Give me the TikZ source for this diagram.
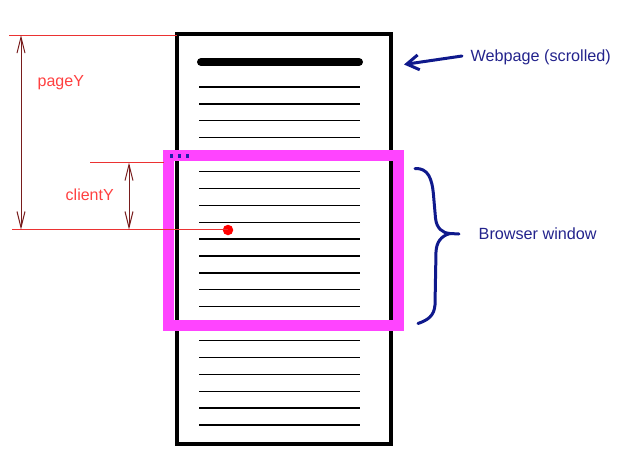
\documentclass[tikz,border=0pt]{standalone}
\usepackage{fontspec}
\setmainfont{Liberation Sans}
\usetikzlibrary{arrows.meta}
\definecolor{winpink}{RGB}{255,68,255}
\definecolor{redtext}{RGB}{255,64,64}
\definecolor{redline}{RGB}{235,50,50}
\definecolor{dimarrow}{RGB}{120,28,28}
\definecolor{navytext}{RGB}{35,35,140}
\definecolor{navyline}{RGB}{15,25,140}
\definecolor{dotblue}{RGB}{30,30,170}
\tikzset{
  pagebox/.style={draw=black, line width=4pt, fill=white, rectangle, inner sep=0pt, minimum width=214pt, minimum height=410pt},
  winbox/.style={draw=winpink, line width=11pt, rectangle, inner sep=0pt, minimum width=230pt, minimum height=170pt},
  textline/.style={line width=1.3pt, black},
  redlbl/.style={text=redtext, anchor=base west, inner sep=0pt, font=\fontsize{16}{19}\selectfont},
  bluelbl/.style={text=navytext, anchor=base west, inner sep=0pt, font=\fontsize{16.2}{19}\selectfont},
  guide/.style={draw=redline, line width=1pt},
  dimarr/.style={draw=dimarrow, line width=1pt, {Straight Barb[length=16pt,width=8pt]}-{Straight Barb[length=16pt,width=8pt]}},
  pointer/.style={draw=navyline, line width=3pt, line cap=round, -{Straight Barb[length=12pt,width=15pt]}},
  bracepath/.style={draw=navyline, line width=3pt, line cap=round, line join=round},
  smalldot/.style={fill=dotblue, rectangle, inner sep=0pt, minimum size=3.2pt}
}
\begin{document}
\begin{tikzpicture}[x=1pt,y=-1pt]
\useasboundingbox (0,0) rectangle (625,453);
% webpage
\node[pagebox] (page) at (284,239) {};
\draw[line width=8pt, line cap=round] (201,62) -- (359,62);
\foreach \k in {0,...,20}{
  \draw[textline] (199,{87+16.9*\k}) -- (360,{87+16.9*\k});
}
% browser window
\node[winbox] (win) at (283.5,240) {};
\node[smalldot] (d1) at (171.3,156) {};
\node[smalldot] (d2) at (179.3,156) {};
\node[smalldot] (d3) at (187.3,156) {};
% red point
\node[circle, fill=red, inner sep=0pt, minimum size=10.5pt] (pt) at (228,230) {};
% guide lines
\coordinate (gtopL) at (9,35);
\coordinate (gtopR) at (177,35);
\coordinate (gbotL) at (12,229.5);
\coordinate (gcliL) at (90,162.5);
\coordinate (gcliR) at (163.5,162.5);
\draw[guide] (gtopL) -- (gtopR);
\draw[guide] (gbotL) -- (gbotL -| pt.center);
\draw[guide] (gcliL) -- (gcliR);
% dimension arrows
\coordinate (pyT) at (21,35);
\coordinate (pyB) at (21,229.5);
\coordinate (cyT) at (129,162.5);
\coordinate (cyB) at (129,229.5);
\draw[dimarr] (pyT) -- (pyB);
\draw[dimarr] (cyT) -- (cyB);
\node[redlbl] (pagey) at (37.5,86.5) {pageY};
\node[redlbl] (clienty) at (65.5,200) {clientY};
% webpage label
\node[bluelbl] (wlbl) at (470.5,61.5) {Webpage (scrolled)};
\coordinate (wtail) at (462,56);
\coordinate (wtip) at (404,64.5);
\draw[pointer] (wtail) -- (wtip);
% brace
\coordinate (bTop) at (415,168.5);
\coordinate (bTip) at (450,233.5);
\coordinate (bBot) at (418,323.5);
\draw[bracepath] (bTop) .. controls (428,168) and (432,178) .. (433.5,195) -- (435.5,218) .. controls (436.5,228) and (442,233) .. (bTip) -- (459,234);
\draw[bracepath] (bTip) .. controls (441,236) and (436.5,242) .. (436,252) -- (435,305) .. controls (434,316) and (428,320) .. (bBot);
\node[bluelbl] (blbl) at (478.5,239) {Browser window};
\end{tikzpicture}
\end{document}
